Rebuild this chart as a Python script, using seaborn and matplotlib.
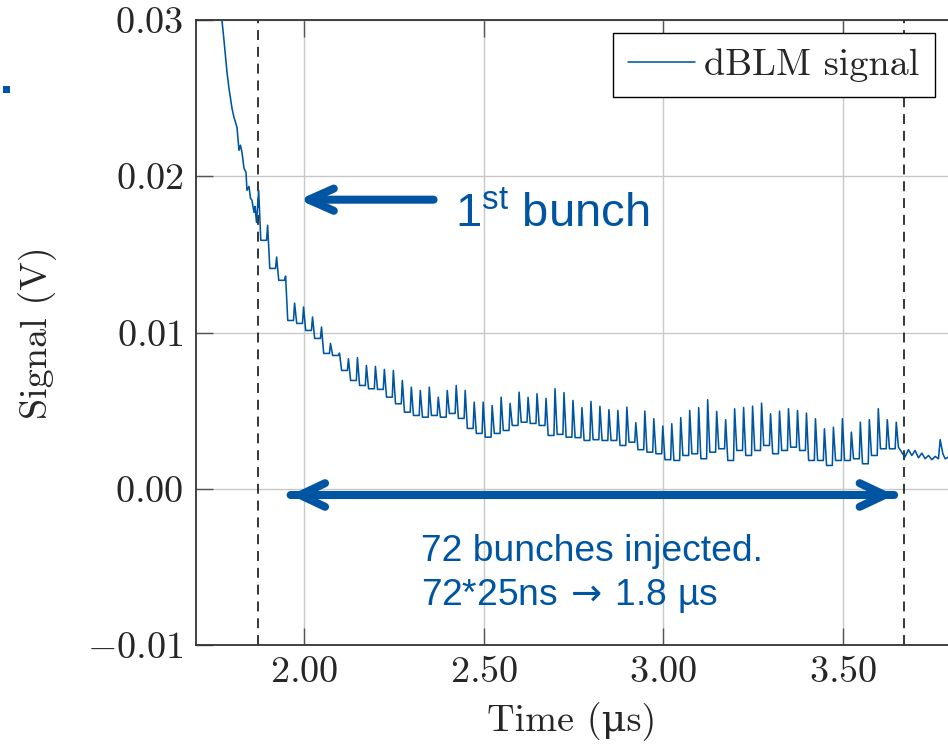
import numpy as np
import pandas as pd
import matplotlib
matplotlib.use("Agg")
import matplotlib.pyplot as plt
import seaborn as sns
from matplotlib.patches import Rectangle

# ---------------- data ----------------
# steep decay before the first injected bunch (time in µs, signal in mV)
pre_t = [1.7709, 1.7765, 1.7821, 1.7849, 1.7904, 1.7941, 1.7988, 1.8043, 1.8127, 1.8183,
         1.8224, 1.8266, 1.8322, 1.8378, 1.8405, 1.8461, 1.8503, 1.8544, 1.8600, 1.8628, 1.8670]
pre_mv = [29.98, 28.70, 27.29, 26.65, 25.63, 25.05, 24.35, 23.77, 23.13, 21.66,
          21.98, 21.53, 20.51, 20.25, 19.10, 19.35, 18.59, 18.46, 17.69, 18.07, 17.05]

first_bunch_us = 1.870
bunch_spacing_us = 0.025
n_bunches = 72
# spike maximum per bunch (mV)
peak_mv = [19.10, 16.86, 14.83, 13.61, 11.88, 11.63, 10.99, 10.35, 9.30, 8.68,
           8.32, 8.39, 7.89, 7.83, 7.64, 7.57, 6.93, 6.50, 6.29, 6.50,
           5.86, 6.29, 6.61, 6.29, 5.54, 5.54, 5.33, 5.86, 5.46, 6.18,
           5.85, 6.08, 5.78, 6.40, 6.15, 5.65, 5.19, 5.59, 5.27, 5.06,
           5.01, 5.22, 4.23, 4.97, 4.48, 4.01, 4.16, 4.55, 5.01, 5.19,
           5.70, 4.95, 4.42, 5.12, 5.20, 5.29, 5.48, 4.80, 4.97, 5.12,
           5.01, 4.84, 4.48, 3.84, 3.94, 4.48, 3.62, 4.26, 4.42, 5.12,
           4.42, 4.26]
# floor level after each spike (mV)
trough_mv = [15.90, 14.10, 13.34, 10.77, 10.58, 10.13, 9.62, 8.66, 8.53, 7.57,
             6.93, 6.61, 6.40, 6.36, 5.86, 5.44, 4.90, 4.69, 4.58, 4.69,
             4.58, 4.82, 4.50, 3.86, 3.54, 3.30, 3.54, 3.73, 4.05, 4.26,
             4.18, 4.05, 3.41, 3.48, 3.30, 3.27, 3.09, 3.14, 3.09, 3.09,
             2.77, 2.98, 2.50, 2.34, 2.24, 1.86, 1.81, 2.13, 2.24, 1.92,
             2.34, 2.56, 1.81, 2.45, 2.13, 2.45, 2.77, 2.24, 2.45, 2.66,
             2.45, 1.81, 1.81, 1.49, 1.81, 1.81, 1.92, 1.60, 2.13, 2.56,
             2.56, 2.66]
# after the train
post_t = [3.6718, 3.6819, 3.6913, 3.7004, 3.7098, 3.7192, 3.7284, 3.7377, 3.7471, 3.7563,
          3.7655, 3.7702, 3.7777, 3.7841, 3.7925]
post_mv = [2.02, 2.50, 2.13, 2.45, 1.98, 2.28, 1.92, 2.13, 1.86, 2.07,
           1.92, 3.14, 2.24, 1.92, 2.02]

train_markers = [1.870, 3.670]
x_ticks = [2.00, 2.50, 3.00, 3.50]
y_ticks = [-0.01, 0.00, 0.01, 0.02, 0.03]

# ---------------- build the signal table ----------------
t_all, v_all = list(pre_t), list(pre_mv)
for k in range(n_bunches):
    tk = first_bunch_us + bunch_spacing_us * k
    if k > 0:
        t_all.append(tk); v_all.append(trough_mv[k - 1])
    t_all.append(tk + 0.003); v_all.append(peak_mv[k])
    t_all.append(tk + 0.009); v_all.append(trough_mv[k])
t_all += post_t
v_all += post_mv
df = pd.DataFrame({"Time": t_all, "Signal": np.array(v_all) / 1000.0})

# ---------------- style ----------------
sns.set_style("white")
plt.rcParams["font.family"] = ["cmr10", "DejaVu Serif"]
plt.rcParams["mathtext.fontset"] = "cm"
plt.rcParams["mathtext.rm"] = "Liberation Sans"
plt.rcParams["mathtext.it"] = "Liberation Sans:italic"
plt.rcParams["mathtext.bf"] = "Liberation Sans:bold"
plt.rcParams["axes.unicode_minus"] = True

BLUE = "#0055A2"
FS = 27.5

fig = plt.figure(figsize=(9.48, 7.48), dpi=100)
ax = fig.add_axes([196 / 948, 103 / 748, 1 - 196 / 948, (645 - 20) / 748])

sns.lineplot(data=df, x="Time", y="Signal", ax=ax, color=BLUE, lw=1.15,
             label="dBLM signal", estimator=None, sort=False, zorder=3)

for xm in train_markers:
    ax.axvline(xm, color="black", lw=1.1, linestyle=(0, (6.5, 4.5)), zorder=2)

ax.set_xlim(1.6986, 3.792)
ax.set_ylim(-0.01, 0.03)
ax.set_xticks(x_ticks, labels=[f"${v:.2f}$" for v in x_ticks])
ax.set_yticks(y_ticks, labels=[f"${v:.2f}$" for v in y_ticks])
ax.grid(True, color="#c8c8c8", lw=1.0)
ax.set_axisbelow(True)
ax.tick_params(axis="both", direction="in", length=12, width=1.0, color="#555555",
               labelsize=FS, top=True, right=False, bottom=True, left=True)
ax.tick_params(axis="x", pad=8)
ax.tick_params(axis="y", pad=9)
for s in ["left", "bottom", "top"]:
    ax.spines[s].set_color("#333333")
    ax.spines[s].set_linewidth(1.3)
ax.spines["right"].set_visible(False)

ax.set_xlabel("Time (\u03bcs)", fontsize=FS, labelpad=9)
ax.set_ylabel("Signal (V)", fontsize=FS, labelpad=22)

leg = ax.legend(loc="upper right", bbox_to_anchor=(935 / 948, (748 - 33) / 748),
                bbox_transform=fig.transFigure, borderaxespad=0, fontsize=FS,
                frameon=True, fancybox=False, framealpha=1, edgecolor="black",
                handlelength=1.75, handletextpad=0.25, borderpad=0.4)
leg.get_frame().set_linewidth(1.0)

# ---------------- annotations ----------------
arrow_kw = dict(color=BLUE, lw=5.8, capstyle="round", joinstyle="round",
                shrinkA=0, shrinkB=0, mutation_scale=1)
ax.annotate("", xy=(1.985, 0.01850), xytext=(2.360, 0.01850),
            arrowprops=dict(arrowstyle="->,head_length=18,head_width=8", **arrow_kw))
ax.annotate("", xy=(1.962, -0.0004), xytext=(3.642, -0.0004),
            arrowprops=dict(arrowstyle="->,head_length=18,head_width=8.5", **arrow_kw))
ax.annotate("", xy=(3.642, -0.0004), xytext=(1.962, -0.0004),
            arrowprops=dict(arrowstyle="->,head_length=18,head_width=8.5", **arrow_kw))

sans = ["Liberation Sans", "DejaVu Sans"]
ax.text(2.420, 0.01679, r"1$^{\mathrm{st}}$ bunch", color=BLUE, fontsize=34,
        family=sans, math_fontfamily="custom", va="baseline", ha="left")
ax.text(2.324, -0.00463, "72 bunches injected.", color=BLUE, fontsize=26.8,
        family=sans, va="baseline", ha="left")
ax.text(2.324, -0.00747, r"72*25ns$\,\rightarrow\,$1.8 µs", color=BLUE, fontsize=26.8,
        family=sans, math_fontfamily="dejavusans", va="baseline", ha="left")

# small stray mark at the top left of the slide
fig.patches.append(Rectangle((3 / 948, (748 - 93) / 748), 7 / 948, 7 / 748,
                             transform=fig.transFigure, color=BLUE, lw=0))

fig.savefig("out.png", dpi=100)
